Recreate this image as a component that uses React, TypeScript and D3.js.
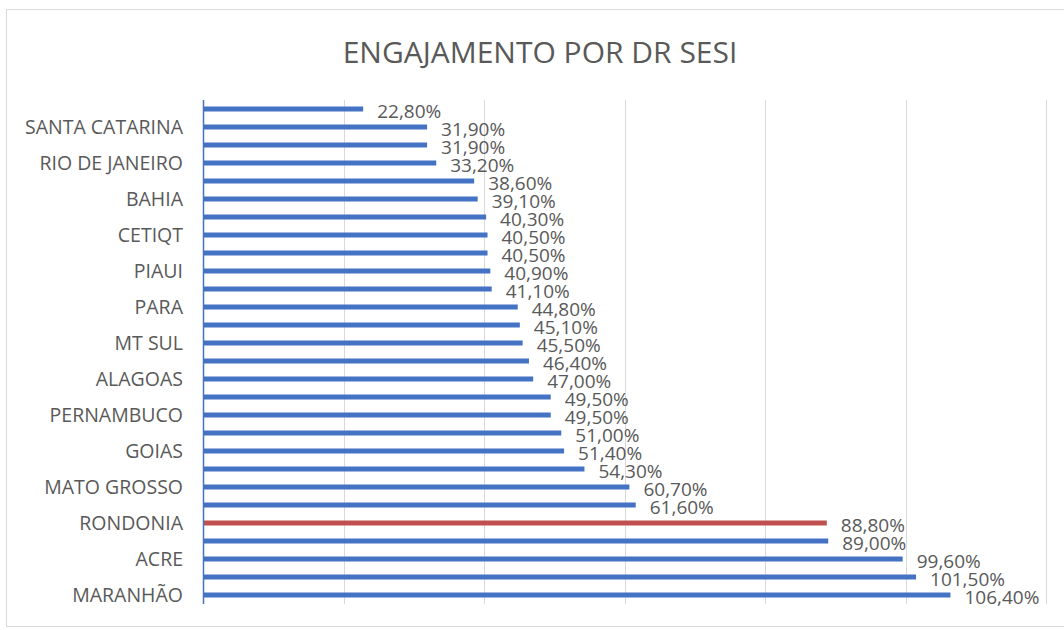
import React, { useEffect, useRef } from 'react';
import * as d3 from 'd3';

// Categories top to bottom (unlabeled rows in the original are left blank)
const categories = ['', 'SANTA CATARINA', '', 'RIO DE JANEIRO', '', 'BAHIA', '', 'CETIQT', '', 'PIAUI', '', 'PARA', '', 'MT SUL', '', 'ALAGOAS', '', 'PERNAMBUCO', '', 'GOIAS', '', 'MATO GROSSO', '', 'RONDONIA', '', 'ACRE', '', 'MARANHÃO'];
const values = [22.8, 31.9, 31.9, 33.2, 38.6, 39.1, 40.3, 40.5, 40.5, 40.9, 41.1, 44.8, 45.1, 45.5, 46.4, 47.0, 49.5, 49.5, 51.0, 51.4, 54.3, 60.7, 61.6, 88.8, 89.0, 99.6, 101.5, 106.4];
const highlighted = ['RONDONIA'];
const gridTicks = [0, 20, 40, 60, 80, 100, 120];
const title = 'ENGAJAMENTO POR DR SESI';

const App = () => {
    const svgRef = useRef<SVGSVGElement>(null);

    useEffect(() => {
        const width = 1064;
        const height = 630;
        const margin = { top: 100, right: 18, bottom: 26, left: 203 };
        const font = "'Open Sans', sans-serif";
        const textColor = '#595959';

        const svg = d3.select(svgRef.current);
        svg.selectAll('*').remove();
        svg.attr('width', width).attr('height', height);

        // Chart frame
        svg.append('rect')
            .attr('x', 6.5)
            .attr('y', 9.5)
            .attr('width', width + 10)
            .attr('height', 617)
            .attr('fill', '#fff')
            .attr('stroke', '#d9d9d9');

        const x = d3.scaleLinear()
            .domain([0, 120])
            .range([margin.left, width - margin.right]);

        const y = d3.scaleBand<number>()
            .domain(d3.range(values.length))
            .range([margin.top, height - margin.bottom]);

        const locale = d3.formatLocale({ decimal: ',', thousands: '.', grouping: [3], currency: ['', ''] });
        const fmt = locale.format('.2f');

        // Title
        svg.append('text')
            .attr('x', 540)
            .attr('y', 63)
            .attr('text-anchor', 'middle')
            .style('font-family', font)
            .style('font-size', '30px')
            .attr('fill', textColor)
            .text(title);

        // Gridlines
        svg.append('g')
            .selectAll('line')
            .data(gridTicks.slice(1))
            .join('line')
            .attr('x1', d => Math.round(x(d)) + 0.5)
            .attr('x2', d => Math.round(x(d)) + 0.5)
            .attr('y1', margin.top)
            .attr('y2', height - margin.bottom)
            .attr('stroke', '#d9d9d9')
            .attr('stroke-width', 1);

        // Bars
        const barH = 5;
        svg.append('g')
            .selectAll('rect')
            .data(values)
            .join('rect')
            .attr('x', x(0))
            .attr('y', (_, i) => y(i)! + y.bandwidth() / 2 - barH / 2)
            .attr('width', d => x(d) - x(0))
            .attr('height', barH)
            .attr('fill', (_, i) => highlighted.includes(categories[i]) ? '#c0504d' : '#4472c4');

        // Value labels (they overlap a little, as in the original)
        svg.append('g')
            .selectAll('text')
            .data(values)
            .join('text')
            .attr('x', d => x(d) + 14)
            .attr('y', (_, i) => y(i)! + y.bandwidth() / 2 + 2)
            .attr('dy', '0.35em')
            .style('font-family', font)
            .style('font-size', '19px')
            .attr('fill', textColor)
            .text(d => fmt(d) + '%');

        // Vertical axis line
        svg.append('line')
            .attr('x1', x(0) + 0.5)
            .attr('x2', x(0) + 0.5)
            .attr('y1', margin.top)
            .attr('y2', height - margin.bottom)
            .attr('stroke', '#4472c4')
            .attr('stroke-width', 1.5);

        // Category labels
        svg.append('g')
            .selectAll('text')
            .data(categories)
            .join('text')
            .attr('x', 183)
            .attr('y', (_, i) => y(i)! + y.bandwidth() / 2)
            .attr('dy', '0.35em')
            .attr('text-anchor', 'end')
            .style('font-family', font)
            .style('font-size', '19.5px')
            .attr('fill', textColor)
            .text(d => d);
    }, []);

    return (
        <svg ref={svgRef} style={{ position: 'absolute', left: 0, top: 0 }}></svg>
    );
};

export default App;
